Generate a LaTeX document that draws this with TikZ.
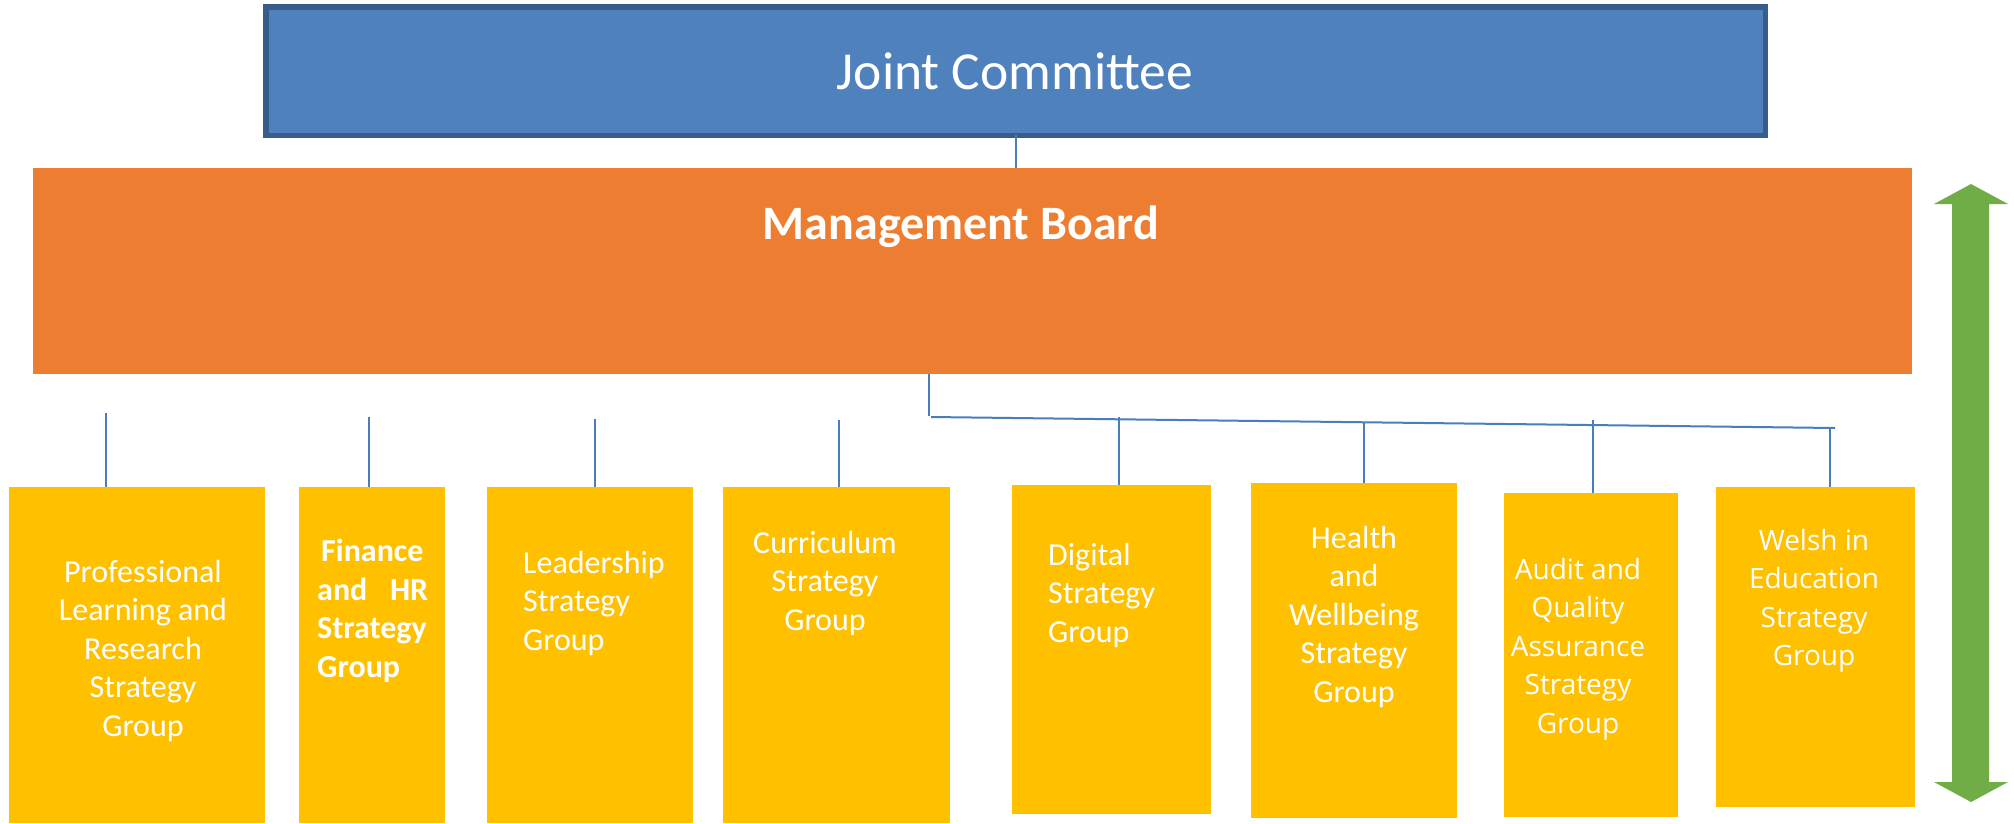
\documentclass[tikz,border=0pt]{standalone}
\usepackage{fontspec}
\setmainfont{Carlito}
\newfontfamily\opensans{Open Sans}
\definecolor{jcfill}{HTML}{4F81BD}
\definecolor{jcline}{HTML}{385D8A}
\definecolor{mbfill}{HTML}{ED7D31}
\definecolor{sgfill}{HTML}{FFC000}
\definecolor{arrgreen}{HTML}{70AD47}
\definecolor{conncol}{HTML}{4A7EBB}
\tikzset{
  boxshape/.style={rectangle, inner sep=0pt, outer sep=0pt},
  sgbox/.style={boxshape, fill=sgfill},
  conn/.style={draw=conncol, line width=2pt},
  sgtext/.style={inner sep=0pt, text=white, font=\fontsize{32}{38.4}\selectfont},
  sgtextos/.style={inner sep=0pt, text=white, font=\opensans\fontsize{28}{38.5}\selectfont},
}
\begin{document}
\begin{tikzpicture}[x=1pt,y=-1pt]
\useasboundingbox[fill=white] (0,0) rectangle (2014,823);

% Joint Committee
\node[boxshape, fill=jcfill, draw=jcline, line width=5.5pt, minimum width=1499.5pt, minimum height=128.5pt] (jc) at (1015.5,71) {};
\node[inner sep=0pt, anchor=base, text=white, font=\fontsize{53.5}{60}\selectfont] (jct) at (1015,89) {Joint Committee};

% Management Board
\node[boxshape, fill=mbfill, minimum width=1879pt, minimum height=206pt] (mb) at (972.5,271) {};
\node[inner sep=0pt, anchor=base, text=white, font=\bfseries\fontsize{48}{56}\selectfont] (mbt) at (961,239) {Management Board};

% Strategy group boxes
\node[sgbox, minimum width=256pt, minimum height=336pt] (prof) at (137,655) {};
\node[sgbox, minimum width=146pt, minimum height=336pt] (fin) at (372,655) {};
\node[sgbox, minimum width=206pt, minimum height=336pt] (lead) at (590,655) {};
\node[sgbox, minimum width=227pt, minimum height=336pt] (curr) at (836.5,655) {};
\node[sgbox, minimum width=199pt, minimum height=329pt] (dig) at (1111.5,649.5) {};
\node[sgbox, minimum width=206pt, minimum height=335pt] (health) at (1354,650.5) {};
\node[sgbox, minimum width=174pt, minimum height=324pt] (audit) at (1591,655) {};
\node[sgbox, minimum width=199pt, minimum height=320pt] (welsh) at (1815.5,647) {};

% Texts
\node[sgtext, align=center, anchor=north] (proft) at (143,560) {Professional\\Learning and\\Research\\Strategy\\Group};
\node[sgtext, font=\bfseries\fontsize{32}{38.6}\selectfont, align=left, text width=111pt, anchor=north west] (fint) at (317,539) {\hspace*{4pt}Finance\\and\hfill HR\\Strategy\\Group};
\node[sgtext, align=left, anchor=north west] (leadt) at (523,551) {Leadership\\Strategy\\Group};
\node[sgtext, align=center, anchor=north] (currt) at (825,531) {Curriculum\\Strategy\\Group};
\node[sgtext, align=left, anchor=north west] (digt) at (1048,543) {Digital\\Strategy\\Group};
\node[sgtext, align=center, anchor=north] (healtht) at (1354,526) {Health\\and\\Wellbeing\\Strategy\\Group};
\node[sgtextos, align=center, anchor=north] (auditt) at (1578,558) {Audit and\\Quality\\Assurance\\Strategy\\Group};
\node[sgtextos, align=center, anchor=north] (welsht) at (1814,529) {Welsh in\\Education\\Strategy\\Group};

% Connectors
\draw[conn] (jc.south) -- (jc.south |- mb.north);
\coordinate (drop) at (929,416);
\coordinate (busA) at (931,417);
\coordinate (busB) at (1835,428);
\draw[conn] (mb.south -| drop) -- (drop);
\draw[conn] (busA) -- (busB);

\coordinate (tprof) at (106,413);
\coordinate (tfin) at (369,417);
\coordinate (tlead) at (595,419);
\coordinate (tcurr) at (839,420);
\coordinate (tdig) at (1119,417);
\coordinate (thealth) at (1364,423);
\coordinate (taudit) at (1593,420);
\coordinate (twelsh) at (1830,428);
\draw[conn] (tprof) -- (tprof |- prof.north);
\draw[conn] (tfin) -- (tfin |- fin.north);
\draw[conn] (tlead) -- (tlead |- lead.north);
\draw[conn] (tcurr) -- (tcurr |- curr.north);
\draw[conn] (tdig) -- (tdig |- dig.north);
\draw[conn] (thealth) -- (thealth |- health.north);
\draw[conn] (taudit) -- (taudit |- audit.north);
\draw[conn] (twelsh) -- (twelsh |- welsh.north);

% Green double arrow
\fill[arrgreen] (1971,184) -- (2008,204) -- (1989,204) -- (1989,782) -- (2008,782)
  -- (1971,802) -- (1934,782) -- (1952,782) -- (1952,204) -- (1934,204) -- cycle;
\end{tikzpicture}
\end{document}
